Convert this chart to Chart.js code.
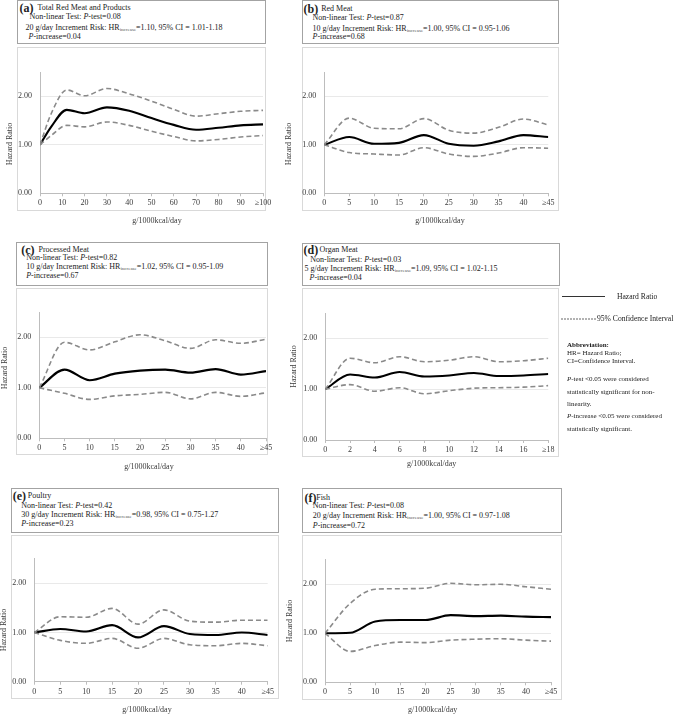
<!DOCTYPE html>
<html>
<head>
<meta charset="utf-8">
<script src="https://cdn.jsdelivr.net/npm/chart.js@4.4.1/dist/chart.umd.min.js"></script>
<style>
  html, body { margin: 0; padding: 0; background: #fff; }
  #root { position: relative; width: 676px; height: 715px; overflow: hidden;
          font-family: "Liberation Serif", "Times New Roman", serif; color: #222; }
  .hdr { position: absolute; box-sizing: border-box; border: 1.5px solid #a3a3a3; }
  .hdr .ln { position: absolute; white-space: nowrap; font-size: 8px; line-height: 10px; }
  .hdr .lt { position: absolute; white-space: nowrap; font-size: 12px; line-height: 12px; font-weight: bold; }
  .box { position: absolute; box-sizing: border-box; border: 1.5px solid #d9d9d9; }
  canvas { position: absolute; }
  .sub { font-size: 5px; vertical-align: -0.5px; color: #555; }
  .note { position: absolute; white-space: nowrap; font-size: 7px; line-height: 8px; color: #222; }
  .leg { position: absolute; white-space: nowrap; font-size: 7.6px; line-height: 10px; color: #222; }
</style>
</head>
<body>
<div id="root"></div>
<script>
// ---------------- DATA ----------------
// (a) Total Red Meat and Products
const aX    = [0, 5, 12, 20, 30, 40, 50, 60, 70, 80, 90, 100];
const aHR   = [1.00, 1.37, 1.72, 1.65, 1.77, 1.70, 1.55, 1.41, 1.31, 1.35, 1.40, 1.42];
const aUp   = [1.00, 1.64, 2.13, 2.01, 2.16, 2.05, 1.90, 1.73, 1.59, 1.64, 1.69, 1.71];
const aLo   = [1.00, 1.19, 1.40, 1.37, 1.47, 1.40, 1.28, 1.17, 1.08, 1.11, 1.16, 1.19];
const aTicks = ['0', '10', '20', '30', '40', '50', '60', '70', '80', '90', '\u2265100'];

// (b) Red Meat
const bX    = [0, 5, 10, 15, 20, 25, 30, 35, 40, 45];
const bHR   = [1.00, 1.16, 1.02, 1.04, 1.20, 1.02, 0.98, 1.07, 1.20, 1.16];
const bUp   = [1.00, 1.55, 1.34, 1.33, 1.54, 1.30, 1.24, 1.36, 1.53, 1.41];
const bLo   = [1.00, 0.84, 0.81, 0.79, 0.94, 0.81, 0.76, 0.83, 0.94, 0.93];
const bTicks = ['0', '5', '10', '15', '20', '25', '30', '35', '40', '\u226545'];

// (c) Processed Meat
const cX    = [0, 5, 10, 15, 20, 25, 30, 35, 40, 45];
const cHR   = [1.00, 1.36, 1.15, 1.28, 1.34, 1.36, 1.30, 1.37, 1.26, 1.33];
const cUp   = [1.00, 1.90, 1.75, 1.91, 2.05, 1.93, 1.78, 1.95, 1.88, 1.96];
const cLo   = [1.00, 0.89, 0.77, 0.84, 0.87, 0.91, 0.78, 0.91, 0.83, 0.90];
const cTicks = ['0', '5', '10', '15', '20', '25', '30', '35', '40', '\u226545'];

// (d) Organ Meat
const dX    = [0, 2, 4, 6, 8, 10, 12, 14, 16, 18];
const dHR   = [1.00, 1.29, 1.23, 1.34, 1.25, 1.27, 1.32, 1.26, 1.27, 1.30];
const dUp   = [1.00, 1.61, 1.52, 1.64, 1.54, 1.57, 1.64, 1.54, 1.56, 1.61];
const dLo   = [1.00, 1.09, 0.96, 1.03, 0.91, 0.97, 1.02, 1.03, 1.04, 1.07];
const dTicks = ['0', '2', '4', '6', '8', '10', '12', '14', '16', '\u226518'];

// (e) Poultry
const eX    = [0, 5, 10, 15, 20, 25, 30, 35, 40, 45];
const eHR   = [1.00, 1.07, 1.02, 1.15, 0.90, 1.13, 0.97, 0.95, 1.00, 0.95];
const eUp   = [1.00, 1.32, 1.31, 1.49, 1.17, 1.46, 1.23, 1.21, 1.25, 1.25];
const eLo   = [1.00, 0.84, 0.78, 0.88, 0.68, 0.88, 0.75, 0.73, 0.78, 0.73];
const eTicks = ['0', '5', '10', '15', '20', '25', '30', '35', '40', '\u226545'];

// (f) Fish
const fX    = [0, 5, 10, 15, 20, 25, 30, 35, 40, 45];
const fHR   = [1.00, 1.01, 1.24, 1.27, 1.27, 1.37, 1.35, 1.36, 1.34, 1.33];
const fUp   = [1.00, 1.61, 1.90, 1.91, 1.92, 2.02, 1.99, 2.00, 1.95, 1.90];
const fLo   = [1.00, 0.63, 0.75, 0.82, 0.81, 0.86, 0.88, 0.89, 0.86, 0.84];
const fTicks = ['0', '5', '10', '15', '20', '25', '30', '35', '40', '\u226545'];

const yTickValues = [0, 1, 2];

// header texts
const panelLetters  = ['(a)', '(b)', '(c)', '(d)', '(e)', '(f)'];
const panelTitles   = ['Total Red Meat and Products', 'Red Meat', 'Processed Meat', 'Organ Meat', 'Poultry', 'Fish'];
const pTests        = ['0.08', '0.87', '0.82', '0.03', '0.42', '0.08'];
const increments    = ['20', '10', '10', '5', '30', '20'];
const hrIncrease    = ['1.10', '1.00', '1.02', '1.09', '0.98', '1.00'];
const ciRanges      = ['1.01-1.18', '0.95-1.06', '0.95-1.09', '1.02-1.15', '0.75-1.27', '0.97-1.08'];
const pIncrease     = ['0.04', '0.68', '0.67', '0.04', '0.23', '0.72'];
const xTitle = 'g/1000kcal/day';
const yTitle = 'Hazard Ratio';

// ---------------- LAYOUT ----------------
const layout = [
  { hdr:[17,0,249,44],   ys:[8.3,17.3,28.3,37.3],  xs:[3,21,13,9,12],
    box:[17,47,249,164],  cv:[0,47,280,185],   area:[40,263,72,193.3],     yT:[10,144],    xT:[157,221] },
  { hdr:[302,0,257,44],  ys:[9,18.3,29,37.7],      xs:[2,19.7,11,11,11],
    box:[302,47,257,164], cv:[280,47,290,185], area:[324.3,548.3,72,193.3], yT:[289,144],   xT:[440,221] },
  { hdr:[16,242,252,44], ys:[8,16.5,25.5,34.8],    xs:[5.7,23,10.7,10.7,10.7],
    box:[16,288,252,167], cv:[0,288,280,185],  area:[39.3,266,312,438.3],  yT:[5,368],     xT:[149,466.7] },
  { hdr:[302,243,258,43],ys:[7.5,17,26.3,35.3],    xs:[2,18,8.7,3,8],
    box:[302,288,257,169],cv:[280,288,290,185],area:[325.3,548.3,313,440], yT:[294,366.5], xT:[431.7,464.3] },
  { hdr:[11,488,268,45], ys:[8.7,18,27,36],        xs:[2.3,17.3,10.7,10.7,10.7],
    box:[11,535,268,164], cv:[0,535,285,180],  area:[34.3,267.7,558.7,681.7], yT:[3.5,630], xT:[147,710] },
  { hdr:[302,488,260,45],ys:[10,18.7,28.7,38.3],   xs:[3,14.7,11.3,11.3,11.3],
    box:[302,535,260,165],cv:[285,535,285,180],area:[325,551,559.8,682.3],  yT:[290,621],   xT:[432.7,710] }
];

const FONT_FAMILY = "'Liberation Serif', 'Times New Roman', serif";
const root = document.getElementById('root');

function el(tag, cls, style, html) {
  const e = document.createElement(tag);
  if (cls) e.className = cls;
  if (style) Object.assign(e.style, style);
  if (html !== undefined) e.innerHTML = html;
  return e;
}

// plugin that writes axis titles at fixed spots
const axisTextPlugin = {
  id: 'axisText',
  afterDraw(chart, args, opts) {
    const ctx = chart.ctx;
    ctx.save();
    ctx.fillStyle = opts.color;
    ctx.font = opts.font;
    ctx.textAlign = 'center';
    ctx.textBaseline = 'middle';
    ctx.fillText(opts.xText, opts.xPos[0], opts.xPos[1]);
    ctx.translate(opts.yPos[0], opts.yPos[1]);
    ctx.rotate(-Math.PI / 2);
    ctx.fillText(opts.yText, 0, 0);
    ctx.restore();
  }
};

function pts(xs, ys) { return xs.map((x, i) => ({ x: x, y: ys[i] })); }

function buildHeader(i) {
  const L = layout[i];
  const [hx, hy, hw, hh] = L.hdr;
  const h = el('div', 'hdr', { left: hx + 'px', top: hy + 'px', width: hw + 'px', height: hh + 'px' });
  const ys = L.ys, xs = L.xs;
  h.appendChild(el('div', 'lt', { left: (xs[0] - 1.5) + 'px', top: (ys[0] - 6 - 1.5) + 'px' }, panelLetters[i]));
  h.appendChild(el('div', 'ln', { left: (xs[1] - 1.5) + 'px', top: (ys[0] - 5 - 1.5) + 'px' }, panelTitles[i]));
  h.appendChild(el('div', 'ln', { left: (xs[2] - 1.5) + 'px', top: (ys[1] - 5 - 1.5) + 'px' },
    'Non-linear Test: <i>P</i>-test=' + pTests[i]));
  h.appendChild(el('div', 'ln', { left: (xs[3] - 1.5) + 'px', top: (ys[2] - 5 - 1.5) + 'px' },
    increments[i] + ' g/day Increment Risk: HR<span class="sub">increase</span>=' + hrIncrease[i] +
    ', 95% CI = ' + ciRanges[i]));
  h.appendChild(el('div', 'ln', { left: (xs[4] - 1.5) + 'px', top: (ys[3] - 5 - 1.5) + 'px' },
    '<i>P</i>-increase=' + pIncrease[i]));
  root.appendChild(h);
  const [bx, by, bw, bh] = L.box;
  root.appendChild(el('div', 'box', { left: bx + 'px', top: by + 'px', width: bw + 'px', height: bh + 'px' }));
}

function makeChart(i, xs, hr, lo, up, tickLabels, xmax, step) {
  buildHeader(i);
  const L = layout[i];
  const [cx, cy, cw, ch] = L.cv;
  const [aL, aR, aT, aB] = L.area;
  const canvas = document.createElement('canvas');
  canvas.width = cw; canvas.height = ch;
  Object.assign(canvas.style, { left: cx + 'px', top: cy + 'px', width: cw + 'px', height: ch + 'px' });
  root.appendChild(canvas);
  const yW = aL - cx;
  const xH = (cy + ch) - aB;
  const tickFont = { family: FONT_FAMILY, size: 8 };
  const dashed = { borderColor: '#8a8a8a', borderWidth: 1.6, borderDash: [5, 3], pointRadius: 0,
                   cubicInterpolationMode: 'monotone', fill: false };
  new Chart(canvas, {
    type: 'line',
    data: {
      datasets: [
        Object.assign({ label: '95% CI upper', data: pts(xs, up) }, dashed),
        Object.assign({ label: '95% CI lower', data: pts(xs, lo) }, dashed),
        { label: 'Hazard Ratio', data: pts(xs, hr), borderColor: '#000', borderWidth: 2.1, pointRadius: 0,
          cubicInterpolationMode: 'monotone', fill: false }
      ]
    },
    options: {
      responsive: false, animation: false, devicePixelRatio: 1,
      layout: { padding: { left: 0, top: aT - cy, right: cw - (aR - cx), bottom: 0 } },
      plugins: {
        legend: { display: false }, tooltip: { enabled: false },
        axisText: {
          color: '#3a3a3a', font: '8px ' + FONT_FAMILY,
          xText: xTitle, yText: yTitle,
          xPos: [L.xT[0] - cx, L.xT[1] - cy],
          yPos: [L.yT[0] - cx, L.yT[1] - cy]
        }
      },
      scales: {
        x: {
          type: 'linear', min: 0, max: xmax,
          afterFit: s => { s.height = xH; },
          ticks: { stepSize: step, autoSkip: false, maxRotation: 0, minRotation: 0, padding: 2,
                   font: tickFont, color: '#3a3a3a',
                   callback: (v, idx) => tickLabels[idx] },
          grid: { drawOnChartArea: false, drawTicks: true, tickLength: 3, tickColor: '#bdbdbd' },
          border: { display: true, color: '#bdbdbd', width: 1 }
        },
        y: {
          min: 0, max: 2.5,
          afterFit: s => { s.width = yW; },
          afterBuildTicks: s => { s.ticks = yTickValues.map(v => ({ value: v })); },
          ticks: { padding: 8, font: tickFont, color: '#3a3a3a', callback: v => Number(v).toFixed(2) },
          grid: { color: '#e9e9e9', lineWidth: 1, drawTicks: false },
          border: { display: true, color: '#bdbdbd', width: 1 }
        }
      }
    },
    plugins: [axisTextPlugin]
  });
}

makeChart(0, aX, aHR, aLo, aUp, aTicks, 100, 10);
makeChart(1, bX, bHR, bLo, bUp, bTicks, 45, 5);
makeChart(2, cX, cHR, cLo, cUp, cTicks, 45, 5);
makeChart(3, dX, dHR, dLo, dUp, dTicks, 18, 2);
makeChart(4, eX, eHR, eLo, eUp, eTicks, 45, 5);
makeChart(5, fX, fHR, fLo, fUp, fTicks, 45, 5);

// ---------------- LEGEND & NOTES ----------------
root.appendChild(el('div', '', { position: 'absolute', left: '562px', top: '296px', width: '43px',
  height: '0', borderTop: '1px solid #333' }));
root.appendChild(el('div', 'leg', { left: '617px', top: '291.5px' }, 'Hazard Ratio'));
root.insertAdjacentHTML('beforeend',
  '<svg style="position:absolute;left:561px;top:316px" width="36" height="6">' +
  '<line x1="0" y1="3" x2="35" y2="3" stroke="#666" stroke-width="1" stroke-dasharray="2,1"/></svg>');
root.appendChild(el('div', 'leg', { left: '597px', top: '314px' }, '95% Confidence Interval'));

const notes = [
  [345, '<b>Abbreviation:</b>'],
  [352.7, 'HR= Hazard Ratio;'],
  [361.2, 'CI=Confidence Interval.'],
  [379.3, '<i>P</i>-test &lt;0.05 were considered'],
  [391.7, 'statistically significant for non-'],
  [403.7, 'linearity.'],
  [416, '<i>P</i>-increase &lt;0.05 were considered'],
  [428.8, 'statistically significant.']
];
notes.forEach(n => root.appendChild(el('div', 'note', { left: '567px', top: (n[0] - 4) + 'px' }, n[1])));
</script>
</body>
</html>
